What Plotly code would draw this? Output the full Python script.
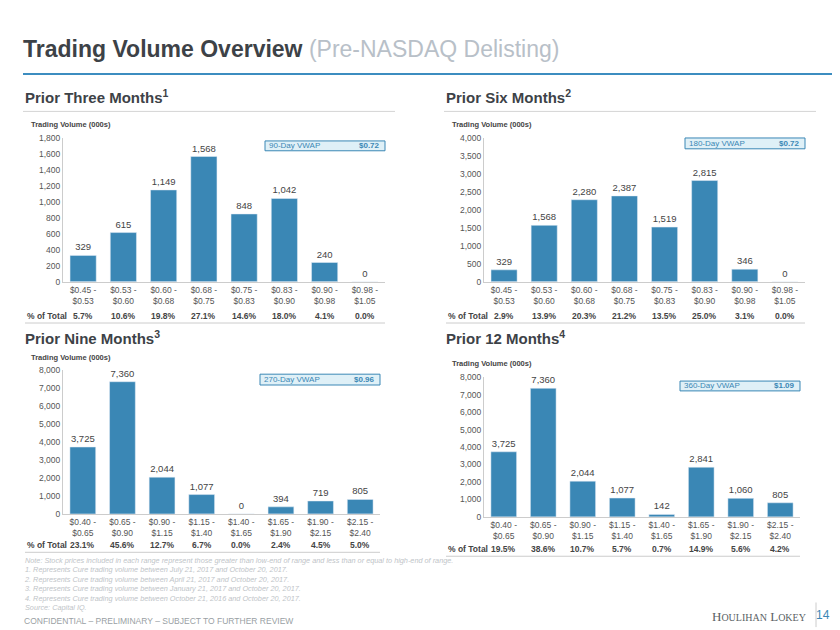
import plotly.graph_objects as go

# bin labels
bins_a = ['$0.45 -<br>$0.53', '$0.53 -<br>$0.60', '$0.60 -<br>$0.68', '$0.68 -<br>$0.75',
          '$0.75 -<br>$0.83', '$0.83 -<br>$0.90', '$0.90 -<br>$0.98', '$0.98 -<br>$1.05']
bins_b = ['$0.40 -<br>$0.65', '$0.65 -<br>$0.90', '$0.90 -<br>$1.15', '$1.15 -<br>$1.40',
          '$1.40 -<br>$1.65', '$1.65 -<br>$1.90', '$1.90 -<br>$2.15', '$2.15 -<br>$2.40']

vol_3m = [329, 615, 1149, 1568, 848, 1042, 240, 0]
vol_6m = [329, 1568, 2280, 2387, 1519, 2815, 346, 0]
vol_9m = [3725, 7360, 2044, 1077, 0, 394, 719, 805]
vol_12m = [3725, 7360, 2044, 1077, 142, 2841, 1060, 805]

pct_3m = ['5.7%', '10.6%', '19.8%', '27.1%', '14.6%', '18.0%', '4.1%', '0.0%']
pct_6m = ['2.9%', '13.9%', '20.3%', '21.2%', '13.5%', '25.0%', '3.1%', '0.0%']
pct_9m = ['23.1%', '45.6%', '12.7%', '6.7%', '0.0%', '2.4%', '4.5%', '5.0%']
pct_12m = ['19.5%', '38.6%', '10.7%', '5.7%', '0.7%', '14.9%', '5.6%', '4.2%']

BLUE = '#3a87b5'
DARK = '#3d4247'
FONT = 'Liberation Sans, Arial, sans-serif'


# pixel -> paper
def X(px):
    return (px - 8) / 840


def Y(py):
    return 1 - (py - 8) / 630


# each chart: plot box (px), heading y, vol label y, pct row y, vwap box
charts = [
    (bins_a, vol_3m, pct_3m, (63, 385, 135, 281), 1800, 200, 'Prior Three Months<sup>1</sup>',
     '90-Day VWAP', '$0.72', 93, 121, 316, (265, 385, 138, 148)),
    (bins_a, vol_6m, pct_6m, (484, 805, 135, 281), 4000, 500, 'Prior Six Months<sup>2</sup>',
     '180-Day VWAP', '$0.72', 93, 121, 316, (685, 805, 135, 146)),
    (bins_b, vol_9m, pct_9m, (63, 380, 371, 517), 8000, 1000, 'Prior Nine Months<sup>3</sup>',
     '270-Day VWAP', '$0.96', 338, 358, 549, (260, 380, 375, 386)),
    (bins_b, vol_12m, pct_12m, (484, 800, 378, 520), 8000, 1000, 'Prior 12 Months<sup>4</sup>',
     '360-Day VWAP', '$1.09', 338, 364, 553, (680, 800, 382, 392)),
]

fig = go.Figure()
annotations = []
shapes = []

for i, (bins, vals, pcts, box, ymax, dt, head, vlab, vwap, hy, vy, py, vb) in enumerate(charts):
    n = '' if i == 0 else str(i + 1)
    x0, x1, y0, y1 = box
    left = 23 if x0 < 400 else 444
    fig.add_trace(go.Bar(
        x=list(range(8)), y=vals, marker_color=BLUE, width=0.65,
        text=[f'{v:,}' for v in vals], textposition='outside', cliponaxis=False,
        textfont=dict(size=9.5, color='#444', family=FONT),
        xaxis='x' + n, yaxis='y' + n, showlegend=False))
    fig.update_layout({
        'xaxis' + n: dict(domain=[X(x0), X(x1)], anchor='y' + n, range=[-0.5, 7.5],
                          tickvals=list(range(8)), ticktext=bins,
                          tickfont=dict(size=8.5, color='#555', family=FONT),
                          showline=True, linecolor='#cccccc', showgrid=False, ticks=''),
        'yaxis' + n: dict(domain=[Y(y1), Y(y0)], anchor='x' + n, range=[0, ymax], dtick=dt,
                          tickformat=',', showgrid=False, showline=True, linecolor='#cccccc',
                          tickfont=dict(size=8.5, color='#555', family=FONT), ticks=''),
    })
    xr = 'x' + n
    # % of total row
    annotations.append(dict(text='<b>% of Total</b>', xref='paper', yref='paper',
                            x=X(left + 2), y=Y(py), xanchor='left', yanchor='middle', showarrow=False,
                            font=dict(size=8.5, color='#444', family=FONT)))
    for k, p in enumerate(pcts):
        annotations.append(dict(text='<b>' + p + '</b>', xref=xr, yref='paper', x=k,
                                y=Y(py), yanchor='middle', showarrow=False,
                                font=dict(size=8.5, color='#444', family=FONT)))
    shapes.append(dict(type='line', xref='paper', yref='paper', x0=X(left + 2), x1=X(x1),
                       y0=Y(py + 7), y1=Y(py + 7), line=dict(color='#cccccc', width=1)))
    # headings
    annotations.append(dict(text='<b>' + head + '</b>', xref='paper', yref='paper',
                            x=X(left), y=Y(hy), xanchor='left', yanchor='middle',
                            showarrow=False, font=dict(size=15, color=DARK, family=FONT)))
    if hy < 200:
        shapes.append(dict(type='line', xref='paper', yref='paper', x0=X(left), x1=X(left + 372),
                           y0=Y(108), y1=Y(108), line=dict(color='#d5d5d5', width=1)))
    annotations.append(dict(text='<b>Trading Volume (000s)</b>', xref='paper', yref='paper',
                            x=X(left + 6), y=Y(vy), xanchor='left', yanchor='middle',
                            showarrow=False, font=dict(size=7.5, color='#444', family=FONT)))
    # VWAP box
    bx0, bx1, by0, by1 = vb
    shapes.append(dict(type='rect', xref='paper', yref='paper', x0=X(bx0), x1=X(bx1),
                       y0=Y(by1), y1=Y(by0), fillcolor='#dff0f7',
                       line=dict(color='#3a87b5', width=1)))
    annotations.append(dict(text=vlab, xref='paper', yref='paper', x=X(bx0 + 2),
                            y=Y((by0 + by1) / 2), xanchor='left', yanchor='middle', showarrow=False,
                            font=dict(size=8, color='#3a87b5', family=FONT)))
    annotations.append(dict(text='<b>' + vwap + '</b>', xref='paper', yref='paper',
                            x=X(bx1 - 3), y=Y((by0 + by1) / 2), xanchor='right', yanchor='middle',
                            showarrow=False, font=dict(size=8, color='#3a87b5', family=FONT)))

# page title
annotations.append(dict(text='<b>Trading Volume Overview</b> <span style="color:#b8c0c8">(Pre-NASDAQ Delisting)</span>',
                        xref='paper', yref='paper', x=X(21), y=Y(45), xanchor='left', yanchor='middle',
                        showarrow=False, font=dict(size=23, color=DARK, family=FONT)))
shapes.append(dict(type='line', xref='paper', yref='paper', x0=X(23), x1=X(832), y0=Y(70), y1=Y(70),
                   line=dict(color='#3c8dc0', width=2)))

notes = ['Note: Stock prices included in each range represent those greater than low-end of range and less than or equal to high-end of range.',
         '1. Represents Cure trading volume between July 21, 2017 and October 20, 2017.',
         '2. Represents Cure trading volume between April 21, 2017 and October 20, 2017.',
         '3. Represents Cure trading volume between January 21, 2017 and October 20, 2017.',
         '4. Represents Cure trading volume between October 21, 2016 and October 20, 2017.',
         'Source: Capital IQ.']
annotations.append(dict(text='<i>' + '<br>'.join(notes) + '</i>', xref='paper', yref='paper',
                        x=X(22), y=Y(558), xanchor='left', yanchor='top', align='left', showarrow=False,
                        font=dict(size=7.3, color='#c0c4c8', family=FONT)))
annotations.append(dict(text='CONFIDENTIAL – PRELIMINARY – SUBJECT TO FURTHER REVIEW', xref='paper', yref='paper',
                        x=X(22), y=Y(626), xanchor='left', yanchor='middle', showarrow=False,
                        font=dict(size=8.5, color='#9a9fa4', family=FONT)))
annotations.append(dict(text='H<span style="font-size:10px">OULIHAN</span> L<span style="font-size:10px">OKEY</span>',
                        xref='paper', yref='paper', x=X(808), y=Y(621), xanchor='right', yanchor='middle',
                        showarrow=False, font=dict(size=13, color='#5a5f64', family='Liberation Serif, serif')))
annotations.append(dict(text='14', xref='paper', yref='paper', x=X(832), y=Y(620), xanchor='right',
                        yanchor='middle', showarrow=False, font=dict(size=12, color='#3a87b5', family=FONT)))
shapes.append(dict(type='line', xref='paper', yref='paper', x0=X(816), x1=X(816), y0=Y(632), y1=Y(607),
                   line=dict(color='#cccccc', width=1)))

fig.update_layout(width=840, height=630, margin=dict(l=0, r=0, t=0, b=0),
                  plot_bgcolor='white', paper_bgcolor='white',
                  annotations=annotations, shapes=shapes, font=dict(family=FONT))
fig.write_html('out.html')
